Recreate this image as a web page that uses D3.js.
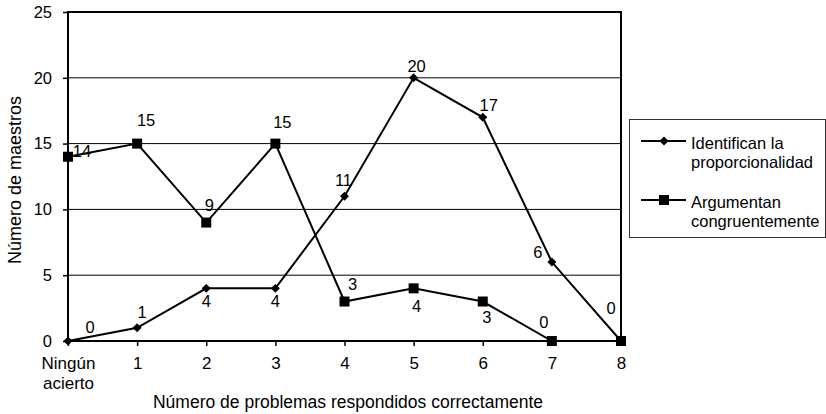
<!DOCTYPE html>
<html>
<head>
<meta charset="utf-8">
<script src="https://cdn.jsdelivr.net/npm/d3@7"></script>
<style>
  body { margin: 0; background: #fff; }
  text { font-family: "Liberation Sans", Arial, sans-serif; fill: #000; }
</style>
</head>
<body>
<div id="chart"></div>
<script>
// categories on the x axis
var categories = ["Ningún acierto", "1", "2", "3", "4", "5", "6", "7", "8"];
// series values
var identifican = [0, 1, 4, 4, 11, 20, 17, 6, 0];
var argumentan = [14, 15, 9, 15, 3, 4, 3, 0, 0];
var seriesNames = ["Identifican la proporcionalidad", "Argumentan congruentemente"];
var yTicks = [0, 5, 10, 15, 20, 25];

// where each data label sits relative to its point (layout only)
var identLabelPos = [[22, -14], [5, -15], [0, 13], [0, 13], [-1, -16], [3, -11], [6, -12], [-14, -10], [-10, -33]];
var argLabelPos = [[14, -5], [9, -23], [3, -17], [7, -21], [8, -17], [3, 18], [4, 16], [-8, -19], [null, null]];

var W = 826, H = 414;
var margin = { top: 12, right: 205, bottom: 73, left: 68 };
var width = W - margin.left - margin.right;   // 553
var height = H - margin.top - margin.bottom;  // 329

var svg = d3.select("#chart").append("svg")
  .attr("width", W)
  .attr("height", H);

var g = svg.append("g")
  .attr("transform", "translate(" + margin.left + "," + margin.top + ")");

var x = d3.scalePoint()
  .domain(d3.range(categories.length))
  .range([0, width]);

var y = d3.scaleLinear()
  .domain([0, 25])
  .range([height, 0]);

// gridlines
g.append("g")
  .selectAll("line")
  .data(yTicks.filter(function(d) { return d > 0 && d < 25; }))
  .join("line")
  .attr("x1", 0)
  .attr("x2", width)
  .attr("y1", function(d) { return y(d); })
  .attr("y2", function(d) { return y(d); })
  .attr("stroke", "#000")
  .attr("stroke-width", 1);

// y axis
var yAxis = g.append("g")
  .call(d3.axisLeft(y).tickValues(yTicks).tickSize(5).tickPadding(11))
  .call(function(a) { a.select(".domain").remove(); });
yAxis.selectAll("line").attr("stroke", "#000").attr("stroke-width", 1.5);
yAxis.selectAll("text").style("font-size", "16.5px").attr("font-family", "Liberation Sans, Arial, sans-serif");

// x axis
var xAxis = g.append("g")
  .attr("transform", "translate(0," + height + ")")
  .call(d3.axisBottom(x).tickSize(5).tickFormat(function() { return ""; }))
  .call(function(a) { a.select(".domain").remove(); });
xAxis.selectAll("line").attr("stroke", "#000").attr("stroke-width", 1.5);
xAxis.selectAll(".tick text").each(function(d) {
  var words = categories[d].split(" ");
  var t = d3.select(this).text(null)
    .style("font-size", "17px")
    .attr("font-family", "Liberation Sans, Arial, sans-serif")
    .attr("dy", null)
    .attr("y", 16);
  words.forEach(function(w, i) {
    t.append("tspan").attr("x", 0).attr("dy", i === 0 ? "0.71em" : "1.18em").text(w);
  });
});

// plot frame
g.append("rect")
  .attr("x", 0).attr("y", 0)
  .attr("width", width).attr("height", height)
  .attr("fill", "none")
  .attr("stroke", "#000")
  .attr("stroke-width", 2);

var line = d3.line()
  .x(function(d, i) { return x(i); })
  .y(function(d) { return y(d); });

// series lines
[argumentan, identifican].forEach(function(s) {
  g.append("path")
    .datum(s)
    .attr("d", line)
    .attr("fill", "none")
    .attr("stroke", "#000")
    .attr("stroke-width", 2);
});

// markers
var square = d3.symbol().type(d3.symbolSquare).size(100);
var diamond = d3.symbol().type(d3.symbolSquare).size(40);

g.append("g").selectAll("path")
  .data(argumentan)
  .join("path")
  .attr("transform", function(d, i) { return "translate(" + x(i) + "," + y(d) + ")"; })
  .attr("d", square)
  .attr("fill", "#000");

g.append("g").selectAll("path")
  .data(identifican)
  .join("path")
  .attr("transform", function(d, i) { return "translate(" + x(i) + "," + y(d) + ") rotate(45)"; })
  .attr("d", diamond)
  .attr("fill", "#000");

// data labels
function labels(data, pos) {
  g.append("g").selectAll("text")
    .data(data)
    .join("text")
    .filter(function(d, i) { return pos[i][0] !== null; })
    .attr("x", function(d, i) { return x(i) + pos[i][0]; })
    .attr("y", function(d) { return y(d); })
    .attr("dy", function(d, i) { return pos[i][1] + 5.5; })
    .attr("text-anchor", "middle")
    .style("font-size", "16.5px")
    .text(function(d) { return d; });
}
labels(identifican, identLabelPos);
labels(argumentan, argLabelPos);

// axis titles
svg.append("text")
  .attr("transform", "translate(21,180) rotate(-90)")
  .attr("text-anchor", "middle")
  .style("font-size", "18px")
  .text("Número de maestros");

svg.append("text")
  .attr("x", 348)
  .attr("y", 408)
  .attr("text-anchor", "middle")
  .style("font-size", "17.5px")
  .text("Número de problemas respondidos correctamente");

// legend
var lg = svg.append("g");
lg.append("rect")
  .attr("x", 629.5).attr("y", 119.5)
  .attr("width", 196).attr("height", 118)
  .attr("fill", "#fff")
  .attr("stroke", "#333")
  .attr("stroke-width", 1);

var legendItems = [
  { name: seriesNames[0], y: 141, sym: diamond, rot: " rotate(45)" },
  { name: seriesNames[1], y: 200, sym: square, rot: "" }
];
var wrapAt = [14, 10];
legendItems.forEach(function(it, k) {
  lg.append("line")
    .attr("x1", 641).attr("x2", 686)
    .attr("y1", it.y).attr("y2", it.y)
    .attr("stroke", "#000").attr("stroke-width", 2);
  lg.append("path")
    .attr("transform", "translate(664," + it.y + ")" + it.rot)
    .attr("d", it.sym)
    .attr("fill", "#000");
  var parts = [it.name.slice(0, wrapAt[k]), it.name.slice(wrapAt[k] + 1)];
  var t = lg.append("text")
    .attr("x", 691)
    .attr("y", it.y + 8)
    .style("font-size", "16.5px");
  parts.forEach(function(p, i) {
    t.append("tspan").attr("x", 691).attr("dy", i === 0 ? 0 : 19).text(p);
  });
});
</script>
</body>
</html>
